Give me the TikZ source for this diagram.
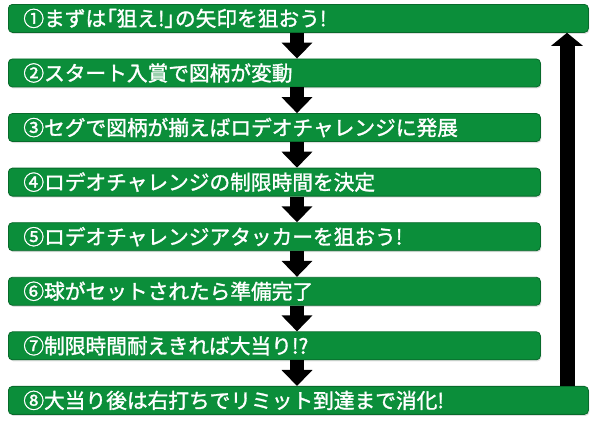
\documentclass[tikz,border=0pt]{standalone}
\usepackage{fontspec}
\newfontfamily\jpfont[FakeBold=1.4]{Noto Sans CJK JP}
\usetikzlibrary{arrows.meta,shadows}
\definecolor{barGreen}{HTML}{0B8E3A}
\definecolor{barEdge}{HTML}{086A2B}
% narrow brackets as in the original
\newcommand{\nb}[1]{{\addfontfeature{CharacterWidth=AlternateProportional}#1}}

\begin{document}
\begin{tikzpicture}[x=1pt,y=1pt,
  bar/.style={draw=barEdge,line width=0.8pt,fill=barGreen,rounded corners=4pt,
    minimum height=28pt,inner xsep=15pt,inner ysep=0pt,anchor=north west,align=left,
    font=\jpfont\fontsize{20.7}{22}\selectfont,text=white,
    drop shadow={opacity=0.25,shadow xshift=1pt,shadow yshift=-1.5pt}},
  downarrow/.style={line width=14pt,-{Triangle[width=30pt,length=16pt]}},
  uparrow/.style={line width=15pt,-{Triangle[width=31pt,length=13pt]}}]

\useasboundingbox (0,0) rectangle (600,-423);
\coordinate (axis) at (297,0);
\coordinate (rtn) at (567,0);

\foreach \i/\w/\t [evaluate={\tw=\w-30},evaluate={\top=-4-54.57*(\i-1)}] in
  {1/580/①まずは\nb{「}狙え!\nb{」}の矢印を狙おう!,
   2/532/②スタート入賞で図柄が変動,
   3/532/③セグで図柄が揃えばロデオチャレンジに発展,
   4/532/④ロデオチャレンジの制限時間を決定,
   5/532/⑤ロデオチャレンジアタッカーを狙おう!,
   6/532/⑥球がセットされたら準備完了,
   7/532/⑦制限時間耐えきれば大当り!?,
   8/580/⑧大当り後は右打ちでリミット到達まで消化!}
{
  \node[bar,minimum width=\w pt,text width=\tw pt] (b\i) at (8,\top) {\t};
}

% flow down
\foreach \i [evaluate={\j=int(\i+1)}] in {1,...,7}
  \draw[downarrow] (b\i.south -| axis) -- (b\j.north -| axis);
% back to the top
\draw[uparrow] (b8.north -| rtn) -- (b1.south -| rtn);
\end{tikzpicture}
\end{document}
